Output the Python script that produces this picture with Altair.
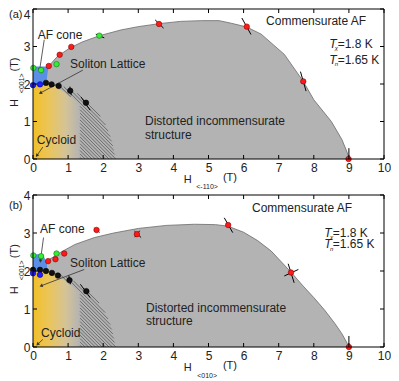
import math
import altair as alt
import pandas as pd

FONT = "Liberation Sans"
TXT = "#222222"
GRAY = "#b3b3b3"
BLUEFILL = "#5b8fe6"
W = 351
SX = W / 10.0

x_ticks = [0, 1, 2, 3, 4, 5, 6, 7, 8, 9, 10]
y_ticks = [0, 1, 2, 3, 4]

# ---------------- panel (a): H along <-110> ----------------
a_bound_x = [0, 0.42, 0.45, 0.7, 1.05, 1.4, 1.9, 2.5, 3.0, 3.6, 4.2, 4.8, 5.3, 5.65, 6.09, 6.5, 7.16, 7.7, 8.0, 8.5, 8.8, 8.95, 9.0]
a_bound_y = [2.45, 2.45, 2.48, 2.74, 2.96, 3.12, 3.29, 3.44, 3.53, 3.61, 3.67, 3.69, 3.69, 3.62, 3.52, 3.33, 2.79, 2.07, 1.58, 1.0, 0.52, 0.18, 0.0]
a_cone_x = [0, 0.37, 0.44]
a_cone_top = [2.47, 2.47, 2.47]
a_cone_bot = [1.97, 1.97, 2.47]
a_grad_x = [0, 0.4, 0.6, 0.9, 1.15, 1.34]
a_grad_top = [1.99, 2.0, 1.95, 1.78, 1.6, 1.42]
a_hatch_x = [0.45, 0.8, 1.06, 1.3, 1.55, 1.75, 1.95, 2.1, 2.22, 2.3, 2.35]
a_hatch_y = [2.0, 1.96, 1.86, 1.73, 1.53, 1.33, 1.1, 0.85, 0.55, 0.25, 0.0]
a_red_x = [0.45, 0.76, 1.09, 3.59, 6.09, 7.70, 8.99]
a_red_y = [2.48, 2.78, 2.99, 3.60, 3.53, 2.07, 0.0]
a_green_x = [0.01, 0.23, 0.67, 1.89]
a_green_y = [2.43, 2.37, 2.53, 3.29]
a_blue_x = [0.0, 0.2]
a_blue_y = [1.97, 1.99]
a_black_x = [0.37, 0.53, 0.73, 1.06, 1.51]
a_black_y = [2.03, 1.99, 1.95, 1.82, 1.50]
a_err_x1 = [3.48, 1.79, 5.95, 7.62, 9.0, 1.05, 1.37, 0.71]
a_err_y1 = [3.71, 3.33, 3.76, 2.33, 0.29, 1.93, 1.65, 1.99]
a_err_x2 = [3.72, 2.03, 6.21, 7.78, 9.0, 1.09, 1.63, 0.78]
a_err_y2 = [3.49, 3.23, 3.32, 1.81, 0.0, 1.70, 1.30, 1.90]
a_arr_x1 = [0.32, 1.42, 0.28]
a_arr_y1 = [3.18, 2.37, 0.32]
a_arr_x2 = [0.19, 0.21, 0.11]
a_arr_y2 = [2.38, 1.76, 0.09]
a_ctext = ["AF cone", "Soliton Lattice"]
a_ctext_x = [0.77, 2.13]
a_ctext_y = [3.31, 2.53]
a_ltext = ["Distorted incommensurate", "structure", "Cycloid", "Commensurate AF", "=1.8 K", "=1.65 K"]
a_ltext_x = [3.19, 3.19, 0.11, 6.64, 8.68, 8.68]
a_ltext_y = [1.02, 0.64, 0.52, 3.67, 3.08, 2.64]
a_T_x = [8.44, 8.44]
a_T_y = [3.08, 2.64]
a_sub = ["χ", "n"]
a_sub_x = [8.60, 8.60]
a_sub_y = [2.97, 2.53]
a_panel = "(a)"
a_panel_y = 3.827
a_xsub = "<-110>"

# ---------------- panel (b): H along <010> ----------------
b_bound_x = [0, 0.38, 0.6, 0.8, 1.2, 1.75, 2.3, 3.0, 3.8, 4.6, 5.2, 5.55, 6.0, 6.4, 6.78, 7.35, 7.7, 8.0, 8.3, 8.6, 8.8, 8.95, 9.0]
b_bound_y = [2.26, 2.26, 2.38, 2.5, 2.7, 2.88, 3.0, 3.12, 3.2, 3.23, 3.22, 3.18, 3.02, 2.8, 2.53, 1.97, 1.6, 1.3, 0.98, 0.62, 0.35, 0.1, 0.0]
b_cone_x = [0, 0.28, 0.4]
b_cone_top = [2.44, 2.44, 2.2]
b_cone_bot = [1.98, 1.98, 1.98]
b_grad_x = [0, 0.4, 0.6, 0.9, 1.15, 1.34]
b_grad_top = [2.0, 1.98, 1.92, 1.76, 1.58, 1.4]
b_hatch_x = [0.45, 0.75, 1.04, 1.3, 1.55, 1.75, 1.95, 2.1, 2.22, 2.3, 2.35]
b_hatch_y = [1.99, 1.92, 1.8, 1.66, 1.48, 1.3, 1.08, 0.83, 0.55, 0.25, 0.0]
b_red_x = [0.43, 0.64, 0.89, 1.81, 2.96, 5.56, 7.35, 9.0]
b_red_y = [2.26, 2.31, 2.46, 3.08, 2.97, 3.21, 1.96, 0.0]
b_green_x = [0.01, 0.23, 0.67]
b_green_y = [2.41, 2.39, 2.46]
b_blue_x = [0.0, 0.2]
b_blue_y = [1.94, 1.90]
b_black_x = [0.0, 0.2, 0.37, 0.54, 0.71, 1.04, 1.52]
b_black_y = [2.03, 2.03, 2.0, 1.95, 1.88, 1.76, 1.47]
b_err_x1 = [1.75, 2.89, 2.90, 5.45, 7.27, 7.16, 9.0, 1.35, 1.02]
b_err_y1 = [3.14, 3.05, 2.89, 3.40, 2.19, 1.87, 0.29, 1.65, 1.88]
b_err_x2 = [1.89, 3.08, 3.04, 5.69, 7.44, 7.56, 9.0, 1.63, 1.07]
b_err_y2 = [3.01, 2.88, 3.06, 3.01, 1.69, 2.04, 0.0, 1.30, 1.66]
b_arr_x1 = [0.30, 1.46, 0.28]
b_arr_y1 = [2.88, 2.04, 0.20]
b_arr_x2 = [0.21, 0.23, 0.13]
b_arr_y2 = [2.26, 1.61, 0.07]
b_ctext = ["AF cone", "Soliton Lattice"]
b_ctext_x = [0.835, 2.13]
b_ctext_y = [3.11, 2.20]
b_ltext = ["Distorted incommensurate", "structure", "Cycloid", "Commensurate AF", "=1.8 K", "=1.65 K"]
b_ltext_x = [3.22, 3.22, 0.23, 6.24, 8.54, 8.54]
b_ltext_y = [1.03, 0.68, 0.38, 3.65, 3.01, 2.70]
b_T_x = [8.30, 8.30]
b_T_y = [3.01, 2.70]
b_sub = ["χ", "n"]
b_sub_x = [8.46, 8.46]
b_sub_y = [2.90, 2.59]
b_panel = "(b)"
b_panel_y = 3.70
b_xsub = "<010>"


def hatch_segments(poly, k, step):
    vals = [py + k * px for px, py in poly]
    c = min(vals) + step / 2
    segs = []
    n = len(poly)
    while c < max(vals):
        pts = []
        for i in range(n):
            x1, y1 = poly[i]
            x2, y2 = poly[(i + 1) % n]
            f1 = y1 + k * x1 - c
            f2 = y2 + k * x2 - c
            if (f1 > 0) != (f2 > 0):
                t = f1 / (f1 - f2)
                pts.append((x1 + t * (x2 - x1), y1 + t * (y2 - y1)))
        pts.sort()
        for j in range(0, len(pts) - 1, 2):
            segs.append({"x": pts[j][0], "y": pts[j][1], "x2": pts[j + 1][0], "y2": pts[j + 1][1]})
        c += step
    return pd.DataFrame(segs)


def make_panel(h, P, first):
    sy = h / 4.0
    ybase = {"condition": {"test": "datum.value >= 4", "value": "top"}, "value": "middle"} if first else "middle"
    xaxis = alt.Axis(values=x_ticks, title=None, domain=False, ticks=False, tickSize=0, labelPadding=3,
                     labelFontSize=12, labelFont=FONT, labelColor=TXT, grid=False, labelFlush=False)
    yaxis = alt.Axis(values=y_ticks, title=None, domain=False, ticks=False, tickSize=0, labelPadding=3,
                     labelFontSize=12, labelFont=FONT, labelColor=TXT, grid=False, labelFlush=False,
                     labelBaseline=ybase)

    def X(f):
        return alt.X(f, type="quantitative", scale=alt.Scale(domain=[0, 10], nice=False, zero=False), axis=xaxis)

    def Y(f):
        return alt.Y(f, type="quantitative", scale=alt.Scale(domain=[0, 4], nice=False, zero=False), axis=yaxis)

    layers = []
    bound = pd.DataFrame({"x": P["bx"], "y": P["by"]})
    layers.append(alt.Chart(bound).mark_area(color=GRAY, opacity=1).encode(x=X("x"), y=Y("y"), y2=alt.datum(0)))

    grad = pd.DataFrame({"x": P["gx"], "y": P["gt"]})
    gfill = alt.Gradient(gradient="linear", x1=0, x2=1, y1=0, y2=0, stops=[
        alt.GradientStop(color="#f2bf28", offset=0),
        alt.GradientStop(color="#eac55c", offset=0.35),
        alt.GradientStop(color="#d4c398", offset=0.7),
        alt.GradientStop(color=GRAY, offset=1)])
    layers.append(alt.Chart(grad).mark_area(color=gfill, opacity=1).encode(x=X("x"), y=Y("y"), y2=alt.datum(0)))

    cone = pd.DataFrame({"x": P["cx"], "y": P["ct"], "y2": P["cb"]})
    layers.append(alt.Chart(cone).mark_area(color=BLUEFILL, opacity=1).encode(x=X("x"), y=Y("y"), y2="y2"))

    poly = list(zip(P["hx"], P["hy"])) + [(P["gx"][-1], 0.0)] + \
        [(gx, gt) for gx, gt in zip(reversed(P["gx"]), reversed(P["gt"])) if gx >= 0.6]
    hdf = hatch_segments(poly, SX / sy, 3.4 / sy)
    layers.append(alt.Chart(hdf).mark_rule(color="#3a3a3a", strokeWidth=0.6).encode(
        x=X("x"), y=Y("y"), x2="x2", y2="y2"))

    outline = bound[bound["x"] >= P["bx"][1]]
    layers.append(alt.Chart(outline).mark_line(color="#6a6a6a", strokeWidth=0.8).encode(x=X("x"), y=Y("y")))

    arr = pd.DataFrame({"x": P["ax1"], "y": P["ay1"], "x2": P["ax2"], "y2": P["ay2"]})
    arr["ang"] = [math.degrees(math.atan2((r.x2 - r.x) * SX, (r.y2 - r.y) * sy)) % 360 for r in arr.itertuples()]
    layers.append(alt.Chart(arr).mark_rule(color="#333333", strokeWidth=0.8).encode(
        x=X("x"), y=Y("y"), x2="x2", y2="y2"))
    layers.append(alt.Chart(arr).mark_point(shape="triangle-up", filled=True, size=14, color="#333333", opacity=1).encode(
        x=X("x2"), y=Y("y2"), angle=alt.Angle("ang:Q", scale=None)))

    err = pd.DataFrame({"x": P["ex1"], "y": P["ey1"], "x2": P["ex2"], "y2": P["ey2"]})
    layers.append(alt.Chart(err).mark_rule(color="black", strokeWidth=1).encode(
        x=X("x"), y=Y("y"), x2="x2", y2="y2"))

    pts = pd.concat([
        pd.DataFrame({"x": P["blkx"], "y": P["blky"], "k": "black"}),
        pd.DataFrame({"x": P["bluex"], "y": P["bluey"], "k": "blue"}),
        pd.DataFrame({"x": P["grx"], "y": P["gry"], "k": "green"}),
        pd.DataFrame({"x": P["rx"], "y": P["ry"], "k": "red"}),
    ])
    kinds = ["black", "blue", "green", "red"]
    layers.append(alt.Chart(pts).mark_point(filled=True, size=30, opacity=1, strokeWidth=0.6).encode(
        x=X("x"), y=Y("y"),
        fill=alt.Fill("k:N", scale=alt.Scale(domain=kinds, range=["#111111", "#1f1fff", "#33ee33", "#ff1a1a"]), legend=None),
        stroke=alt.Stroke("k:N", scale=alt.Scale(domain=kinds, range=["#000000", "#000099", "#117711", "#880000"]), legend=None)))

    def text_layer(texts, xs, ys, **kw):
        d = pd.DataFrame({"t": texts, "x": xs, "y": ys})
        props = dict(font=FONT, fontSize=12, color=TXT, baseline="middle")
        props.update(kw)
        return alt.Chart(d).mark_text(**props).encode(x=X("x"), y=Y("y"), text="t:N")

    layers.append(text_layer(P["ctxt"], P["ctx"], P["cty"], align="center"))
    layers.append(text_layer(P["lt"], P["ltx"], P["lty"], align="left"))
    layers.append(text_layer(["T", "T"], P["Tx"], P["Ty"], align="left", fontStyle="italic"))
    layers.append(text_layer(P["sub"], P["subx"], P["suby"], align="left", fontSize=6, fontStyle="italic"))
    layers.append(text_layer([P["panel"]], [-0.684], [P["panely"]], align="left", fontSize=11))
    # y axis title  H<001> (T)
    layers.append(text_layer(["H", "(T)"], [-0.513, -0.513], [1.49, 2.52], align="center", fontSize=11, angle=270))
    layers.append(text_layer(["<001>"], [-0.313], [2.02], align="center", fontSize=7, angle=270))
    # x axis title
    layers.append(text_layer(["H", "(T)"], [4.41, 5.61], [-0.55, -0.5], align="center", fontSize=11))
    layers.append(text_layer([P["xsub"]], [4.96], [-0.75], align="center", fontSize=7))

    # inward ticks
    tx = pd.DataFrame({"v": x_ticks})
    ty = pd.DataFrame({"v": y_ticks})
    layers.append(alt.Chart(tx).mark_rule(color="black", strokeWidth=1).encode(
        x=X("v"), y=alt.value(h), y2=alt.value(h - 4)))
    layers.append(alt.Chart(tx).mark_rule(color="black", strokeWidth=1).encode(
        x=X("v"), y=alt.value(0), y2=alt.value(4)))
    layers.append(alt.Chart(ty).mark_rule(color="black", strokeWidth=1).encode(
        y=Y("v"), x=alt.value(0), x2=alt.value(4)))
    layers.append(alt.Chart(ty).mark_rule(color="black", strokeWidth=1).encode(
        y=Y("v"), x=alt.value(W), x2=alt.value(W - 4)))
    # frame
    layers.append(alt.Chart(pd.DataFrame({"d": [0]})).mark_rect(fillOpacity=0, stroke="black", strokeWidth=1).encode(
        x=alt.value(0), x2=alt.value(W), y=alt.value(0), y2=alt.value(h)))

    return alt.layer(*layers).properties(width=W, height=h)


PA = dict(bx=a_bound_x, by=a_bound_y, cx=a_cone_x, ct=a_cone_top, cb=a_cone_bot, gx=a_grad_x, gt=a_grad_top,
          hx=a_hatch_x, hy=a_hatch_y, rx=a_red_x, ry=a_red_y, grx=a_green_x, gry=a_green_y, bluex=a_blue_x,
          bluey=a_blue_y, blkx=a_black_x, blky=a_black_y, ex1=a_err_x1, ey1=a_err_y1, ex2=a_err_x2, ey2=a_err_y2,
          ax1=a_arr_x1, ay1=a_arr_y1, ax2=a_arr_x2, ay2=a_arr_y2, ctxt=a_ctext, ctx=a_ctext_x, cty=a_ctext_y,
          lt=a_ltext, ltx=a_ltext_x, lty=a_ltext_y, Tx=a_T_x, Ty=a_T_y, sub=a_sub, subx=a_sub_x, suby=a_sub_y,
          panel=a_panel, panely=a_panel_y, xsub=a_xsub)
PB = dict(bx=b_bound_x, by=b_bound_y, cx=b_cone_x, ct=b_cone_top, cb=b_cone_bot, gx=b_grad_x, gt=b_grad_top,
          hx=b_hatch_x, hy=b_hatch_y, rx=b_red_x, ry=b_red_y, grx=b_green_x, gry=b_green_y, bluex=b_blue_x,
          bluey=b_blue_y, blkx=b_black_x, blky=b_black_y, ex1=b_err_x1, ey1=b_err_y1, ex2=b_err_x2, ey2=b_err_y2,
          ax1=b_arr_x1, ay1=b_arr_y1, ax2=b_arr_x2, ay2=b_arr_y2, ctxt=b_ctext, ctx=b_ctext_x, cty=b_ctext_y,
          lt=b_ltext, ltx=b_ltext_x, lty=b_ltext_y, Tx=b_T_x, Ty=b_T_y, sub=b_sub, subx=b_sub_x, suby=b_sub_y,
          panel=b_panel, panely=b_panel_y, xsub=b_xsub)

chart = alt.vconcat(make_panel(150, PA, True), make_panel(152, PB, False), spacing=36, bounds="flush").properties(
    padding=0).configure_view(stroke=None)

chart.save("out.html", embed_options={"renderer": "svg", "actions": False})
